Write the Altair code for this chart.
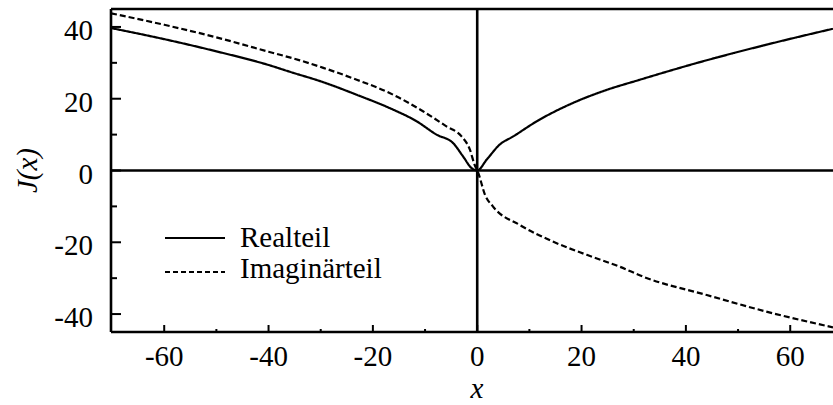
import altair as alt
import pandas as pd

# Axis ranges
x_min, x_max = -70.2, 68.2
y_min, y_max = -45, 45

# Real part of J(x)
real_x = [-70.2, -60, -50, -40, -35.9, -29.5, -23.1, -16.8, -11.6, -7.8, -4.6, -2.7, -1.1, 0,
          1.8, 4.3, 6.9, 11.4, 17.7, 24.1, 31.2, 42.7, 54.2, 68.2]
real_y = [39.7, 36.6, 33.2, 29.4, 27.5, 24.6, 21.1, 17.4, 13.7, 10.0, 7.6, 3.9, 0.7, 0,
          3.0, 7.2, 9.5, 13.7, 18.4, 22.1, 25.3, 30.2, 34.6, 39.5]

# Imaginary part of J(x)
imag_x = [-70.2, -60, -50, -40, -34, -29.5, -23.1, -16.8, -10.4, -5.9, -3.0, -1.4, -0.5, 0,
          0.2, 1.5, 3.0, 8.2, 14.5, 21.0, 27.3, 32.0, 44.0, 56.7, 68.2]
imag_y = [43.8, 40.6, 37.1, 33.1, 30.7, 28.6, 25.3, 21.6, 16.5, 12.3, 9.5, 5.8, 1.6, 0,
          -0.7, -6.8, -10.0, -15.2, -19.8, -23.5, -26.8, -29.7, -34.7, -39.8, -43.7]

# Tick positions and labels
y_major = [-40, -20, 0, 20, 40]
y_minor = [-30, -10, 10, 30]
x_major = [-60, -40, -20, 0, 20, 40, 60]
x_minor = [-50, -30, -10, 10, 30, 50]
legend_labels = ["Realteil", "Imaginärteil"]
x_title = "x"
y_title = "J(x)"

W, H = 722, 323
FONT = "Liberation Serif"
FS = 29

curves = pd.concat([
    pd.DataFrame({"x": real_x, "y": real_y, "teil": legend_labels[0]}),
    pd.DataFrame({"x": imag_x, "y": imag_y, "teil": legend_labels[1]}),
])

xs = alt.Scale(domain=[x_min, x_max], nice=False, zero=False)
ys = alt.Scale(domain=[y_min, y_max], nice=False, zero=False)


def X(field):
    return alt.X(field, scale=xs, axis=None)


def Y(field):
    return alt.Y(field, scale=ys, axis=None)


lines = alt.Chart(curves).mark_line(color="black", strokeWidth=2.2, clip=True,
                                    interpolate="monotone").encode(
    x=X("x:Q"),
    y=Y("y:Q"),
    strokeDash=alt.StrokeDash("teil:N", scale=alt.Scale(domain=legend_labels, range=[[1, 0], [6, 3]]),
                              legend=None),
    detail="teil:N",
)

# Frame: left, top and bottom edges
frame_left = alt.Chart().mark_rule(color="black", strokeWidth=2.6).encode(
    x=alt.value(0), y=alt.value(0), y2=alt.value(H))
frame_top = alt.Chart().mark_rule(color="black", strokeWidth=2.6).encode(
    y=alt.value(0), x=alt.value(0), x2=alt.value(W))
frame_bottom = alt.Chart().mark_rule(color="black", strokeWidth=2.6).encode(
    y=alt.value(H), x=alt.value(0), x2=alt.value(W))

# Zero lines
zero = pd.DataFrame({"v": [0]})
zero_v = alt.Chart(zero).mark_rule(color="black", strokeWidth=2.6).encode(
    x=X("v:Q"), y=alt.value(0), y2=alt.value(H))
zero_h = alt.Chart(zero).mark_rule(color="black", strokeWidth=2.6).encode(
    y=Y("v:Q"), x=alt.value(0), x2=alt.value(W))


# Inward ticks
def y_ticks(vals, length):
    return alt.Chart(pd.DataFrame({"v": vals})).mark_rule(color="black", strokeWidth=2).encode(
        y=Y("v:Q"), x=alt.value(0), x2=alt.value(length))


def x_ticks(vals, length):
    return alt.Chart(pd.DataFrame({"v": vals})).mark_rule(color="black", strokeWidth=2).encode(
        x=X("v:Q"), y=alt.value(H), y2=alt.value(H - length))


# Tick labels (plain hyphen minus, serif font)
y_lab = pd.DataFrame({"v": y_major, "t": [str(v) for v in y_major]})
x_lab = pd.DataFrame({"v": x_major, "t": [str(v) for v in x_major]})
y_labels = alt.Chart(y_lab).mark_text(font=FONT, fontSize=FS, color="black", align="right",
                                      baseline="alphabetic", dy=13).encode(
    y=Y("v:Q"), x=alt.value(-18), text="t:N")
x_labels = alt.Chart(x_lab).mark_text(font=FONT, fontSize=FS, color="black", align="center",
                                      baseline="alphabetic").encode(
    x=X("v:Q"), y=alt.value(H + 34), text="t:N")

# Axis titles
x_title_mark = alt.Chart().mark_text(text=x_title, font=FONT, fontSize=FS, fontStyle="italic",
                                     color="black", align="center", baseline="alphabetic").encode(
    x=alt.value(366), y=alt.value(H + 66))
y_title_mark = alt.Chart().mark_text(text=y_title, font=FONT, fontSize=FS, fontStyle="italic",
                                     color="black", align="center", baseline="middle",
                                     angle=270).encode(
    x=alt.value(-83), y=alt.value(H / 2))

# Legend
leg_line_real = alt.Chart().mark_rule(color="black", strokeWidth=2).encode(
    x=alt.value(54), x2=alt.value(114), y=alt.value(229))
leg_line_imag = alt.Chart().mark_rule(color="black", strokeWidth=2, strokeDash=[5, 3]).encode(
    x=alt.value(54), x2=alt.value(114), y=alt.value(263))
leg_text_real = alt.Chart().mark_text(text=legend_labels[0], font=FONT, fontSize=FS, color="black",
                                      align="left", baseline="alphabetic").encode(
    x=alt.value(129), y=alt.value(238))
leg_text_imag = alt.Chart().mark_text(text=legend_labels[1], font=FONT, fontSize=FS, color="black",
                                      align="left", baseline="alphabetic").encode(
    x=alt.value(129), y=alt.value(269))

chart = alt.layer(
    lines, zero_v, zero_h,
    y_ticks(y_major, 10), y_ticks(y_minor, 6),
    x_ticks(x_major, 7), x_ticks(x_minor, 3),
    frame_left, frame_top, frame_bottom,
    y_labels, x_labels, x_title_mark, y_title_mark,
    leg_line_real, leg_line_imag, leg_text_real, leg_text_imag,
).properties(
    width=W, height=H,
    autosize=alt.AutoSizeParams(type="none"),
    padding={"left": 111, "top": 9, "right": 0, "bottom": 73},
    background="white",
).configure_view(
    stroke=None
)

chart.save("out.html", embed_options={"renderer": "svg", "actions": False})
